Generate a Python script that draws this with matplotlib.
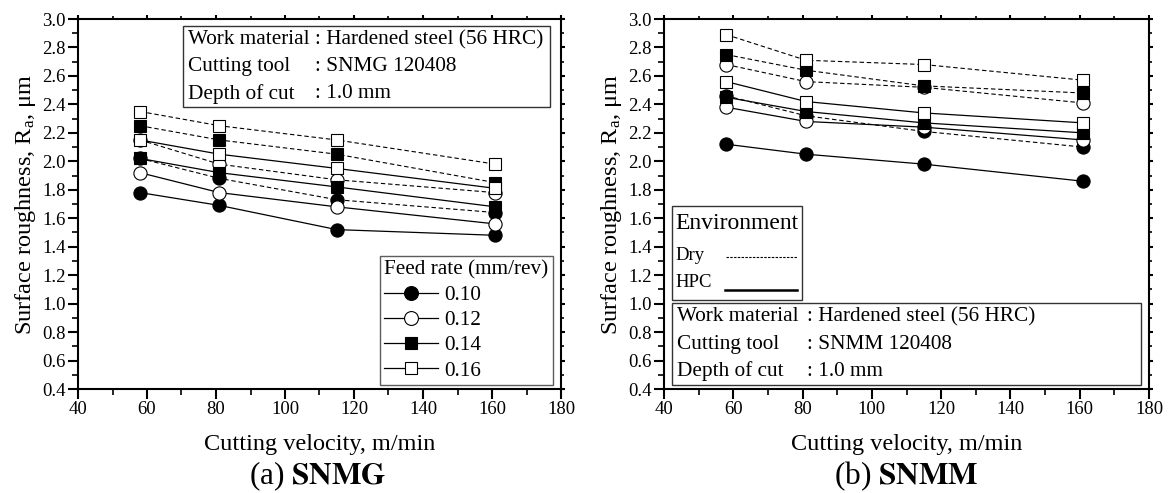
import numpy as np
import matplotlib.pyplot as plt
from matplotlib.lines import Line2D
from matplotlib.patches import Rectangle

plt.rcParams['font.family'] = ['Liberation Serif', 'DejaVu Serif']
plt.rcParams['mathtext.fontset'] = 'stix'

velocity = [58, 81, 115, 161]
feed_rates = ['0.10', '0.12', '0.14', '0.16']

# rows follow feed_rates, columns follow velocity
snmg_dry = [[2.02, 1.88, 1.73, 1.64],
            [2.15, 1.98, 1.87, 1.78],
            [2.25, 2.15, 2.05, 1.85],
            [2.35, 2.25, 2.15, 1.98]]
snmg_hpc = [[1.78, 1.69, 1.52, 1.48],
            [1.92, 1.78, 1.68, 1.56],
            [2.02, 1.92, 1.82, 1.68],
            [2.15, 2.05, 1.95, 1.81]]
snmm_dry = [[2.46, 2.32, 2.21, 2.10],
            [2.68, 2.56, 2.52, 2.41],
            [2.75, 2.64, 2.53, 2.48],
            [2.89, 2.71, 2.68, 2.57]]
snmm_hpc = [[2.12, 2.05, 1.98, 1.86],
            [2.38, 2.28, 2.24, 2.15],
            [2.45, 2.35, 2.27, 2.20],
            [2.56, 2.42, 2.34, 2.27]]

markers = ['o', 'o', 's', 's']
faces = ['black', 'white', 'black', 'white']
msizes = [9.5, 9.5, 8, 8]

W, H = 1174, 493
fig = plt.figure(figsize=(W / 100, H / 100), dpi=100)
ax1 = fig.add_axes([78 / W, 1 - 389 / H, 483 / W, 370 / H])
ax2 = fig.add_axes([664 / W, 1 - 389 / H, 485 / W, 370 / H])


def draw_panel(ax, dry, hpc):
    for i in range(4):
        ax.plot(velocity, dry[i], color='black', lw=0.8, ls=(0, (4, 2.5)),
                marker=markers[i], mfc=faces[i], mec='black', mew=0.8,
                ms=msizes[i], zorder=3)
    for i in range(4):
        ax.plot(velocity, hpc[i], color='black', lw=0.9, ls='-',
                marker=markers[i], mfc=faces[i], mec='black', mew=0.8,
                ms=msizes[i], zorder=3)
    ax.set_xlim(40, 180)
    ax.set_ylim(0.4, 3.0)
    ax.set_xticks(np.arange(40, 181, 20))
    ax.set_xticks(np.arange(40, 181, 10), minor=True)
    ax.set_yticks(np.arange(0.4, 3.01, 0.2))
    ax.set_yticks(np.arange(0.4, 3.01, 0.1), minor=True)
    ax.set_yticklabels([f'{v:.1f}' for v in np.arange(0.4, 3.01, 0.2)])
    for s in ax.spines.values():
        s.set_linewidth(1.5)
    ax.tick_params(which='major', direction='out', length=7, width=1.5,
                   labelsize=13.5, pad=2, top=True, right=True)
    ax.tick_params(which='minor', direction='out', length=4, width=1.2,
                   top=True, right=True)
    # short ticks on the top and right frame
    for t in ax.xaxis.get_major_ticks() + ax.yaxis.get_major_ticks():
        t.tick2line.set_markersize(3)
    for t in ax.xaxis.get_minor_ticks() + ax.yaxis.get_minor_ticks():
        t.tick2line.set_markersize(2)
    ax.set_xlabel('Cutting velocity, m/min', fontsize=17.5, labelpad=11)
    ax.set_ylabel(r'Surface roughness, R$_\mathregular{a}$, μm', fontsize=17.5,
                  labelpad=3)


def info_box(ax, x0, y0, x1, y1, colon_x, tool):
    ax.add_patch(Rectangle((x0, y0), x1 - x0, y1 - y0, transform=ax.transAxes,
                           fill=False, ec='#333333', lw=1.0, zorder=4))
    rows = [('Work material', ': Hardened steel (56 HRC)'),
            ('Cutting tool', ': ' + tool),
            ('Depth of cut', ': 1.0 mm')]
    step = (y1 - y0) / 3
    for k, (lab, val) in enumerate(rows):
        yc = y1 - step * (k + 0.5)
        ax.text(x0 + 0.0105, yc, lab, transform=ax.transAxes, fontsize=15.3,
                va='center', ha='left')
        ax.text(colon_x, yc, val, transform=ax.transAxes, fontsize=15.3,
                va='center', ha='left')


draw_panel(ax1, snmg_dry, snmg_hpc)
draw_panel(ax2, snmm_dry, snmm_hpc)

info_box(ax1, 0.2174, 0.762, 0.977, 0.981, 0.4907, 'SNMG 120408')
info_box(ax2, 0.0165, 0.0108, 0.9835, 0.2324, 0.2948, 'SNMM 120408')

# feed rate legend
handles = [Line2D([], [], color='black', lw=0.9, marker=markers[i],
                  mfc=faces[i], mec='black', mew=0.8, ms=msizes[i] + 0.5)
           for i in range(4)]
leg = ax1.legend(handles, feed_rates, title='Feed rate (mm/rev)',
                 loc='lower right', bbox_to_anchor=(0.983, 0.011),
                 fontsize=15.3, title_fontsize=15.3, frameon=True,
                 fancybox=False, edgecolor='#333333', borderpad=0.2,
                 handlelength=2.5, handletextpad=0.3, labelspacing=0.25,
                 borderaxespad=0)
leg.get_frame().set_linewidth(1.0)
leg._legend_box.align = 'left'

# environment key
ex0, ey0, ex1, ey1 = 0.0165, 0.2405, 0.284, 0.4946
ax2.add_patch(Rectangle((ex0, ey0), ex1 - ex0, ey1 - ey0, transform=ax2.transAxes,
                        fill=False, ec='#333333', lw=1.0, zorder=4))
ax2.text(ex0 + 0.006, 0.447, 'Environment', transform=ax2.transAxes,
         fontsize=17, va='center', ha='left')
ax2.text(ex0 + 0.008, 0.36, 'Dry', transform=ax2.transAxes,
         fontsize=13.5, va='center', ha='left')
ax2.text(ex0 + 0.008, 0.287, 'HPC', transform=ax2.transAxes,
         fontsize=13.5, va='center', ha='left')
ax2.add_line(Line2D([0.128, 0.274], [0.357, 0.357], transform=ax2.transAxes,
                    color='black', lw=0.8, ls=(0, (2.2, 1.2))))
ax2.add_line(Line2D([0.126, 0.275], [0.267, 0.267], transform=ax2.transAxes,
                    color='black', lw=1.8))

fig.text(318 / W, 1 - 476 / H, r'(a) $\mathbf{SNMG}$', fontsize=22.5,
         ha='center', va='center')
fig.text(906 / W, 1 - 476 / H, r'(b) $\mathbf{SNMM}$', fontsize=22.5,
         ha='center', va='center')

fig.savefig('out.png', dpi=100)
